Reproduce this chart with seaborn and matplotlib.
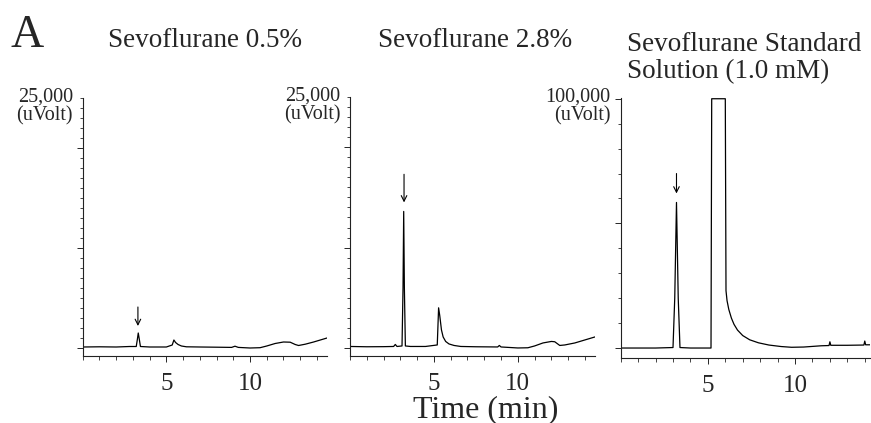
import matplotlib
matplotlib.use("Agg")
import matplotlib.pyplot as plt
import seaborn as sns
import pandas as pd
from matplotlib.ticker import MultipleLocator

# chromatogram traces (time in min, signal in uVolt)
p1_time = [0.0, 1.0, 2.0, 2.8, 3.2, 3.27, 3.32, 3.38, 3.45, 4.0, 5.0, 5.35, 5.45, 5.55,
           5.7, 5.9, 6.2, 7.0, 8.0, 8.9, 9.1, 9.3, 10.0, 10.6, 11.0, 11.5, 12.0, 12.4,
           12.7, 12.9, 13.3, 13.8, 14.2, 14.6]
p1_uv = [100, 120, 100, 150, 150, 900, 1500, 900, 150, 100, 100, 300, 800, 550,
         350, 200, 120, 100, 80, 60, 180, 60, 0, 30, 200, 450, 600, 580,
         350, 250, 380, 600, 800, 1000]

p2_time = [0.0, 1.0, 2.0, 2.6, 2.7, 2.8, 3.1, 3.16, 3.2, 3.24, 3.3, 3.6, 4.5, 5.2, 5.28,
           5.35, 5.45, 5.55, 5.7, 5.9, 6.2, 6.6, 7.5, 8.8, 8.9, 9.0, 10.0, 10.6, 11.0,
           11.5, 12.0, 12.2, 12.5, 12.8, 13.4, 14.0, 14.6]
p2_uv = [150, 120, 130, 150, 350, 150, 200, 6000, 13600, 6000, 200, 150, 150, 300, 4000,
         3200, 1800, 1100, 650, 400, 250, 150, 120, 100, 250, 100, 0, 20, 200,
         500, 650, 620, 250, 300, 500, 800, 1100]

p3_time = [0.0, 1.0, 2.0, 3.0, 3.1, 3.2, 3.3, 3.4, 4.0, 5.0, 5.18, 5.22, 6.0, 6.04, 6.1,
           6.2, 6.35, 6.5, 6.7, 7.0, 7.4, 7.9, 8.5, 9.2, 9.8, 10.5, 11.5, 11.95, 12.0,
           12.05, 13.0, 13.95, 14.0, 14.05, 14.3]
p3_uv = [0, 0, 0, 200, 20000, 58400, 20000, 200, 0, 0, 0, 100000, 100000, 23000, 19000,
         15500, 12000, 9500, 7200, 5000, 3300, 2100, 1200, 600, 300, 400, 900, 1000, 2500,
         1100, 1100, 1200, 2800, 1300, 1300]

titles = ["Sevoflurane 0.5%", "Sevoflurane 2.8%", "Sevoflurane Standard\nSolution (1.0 mM)"]
scale_labels = ["25,000\n(uVolt)", "25,000\n(uVolt)", "100,000\n(uVolt)"]
arrow_time = [3.3, 3.22, 3.2]
arrow_tail = [4100, 17300, 70000]
arrow_tip = [2200, 14500, 62000]

sns.set_style("ticks")
plt.rcParams["font.family"] = ["Liberation Serif", "DejaVu Serif"]

W, H = 871, 423
fig = plt.figure(figsize=(W / 100, H / 100), dpi=100)


def add_ax(left, right, top, bottom):
    return fig.add_axes([left / W, 1 - bottom / H, (right - left) / W, (bottom - top) / H])


axes = [add_ax(82.7, 327, 98, 356), add_ax(350, 595, 97, 356), add_ax(620.7, 870, 98, 358)]
xlims = [(0, 14.6), (0, 14.6), (0, 14.3)]
ylims = [(-800, 25000), (-800, 25000), (-4000, 100300)]
ymajor = [10000, 10000, 50000]
yminor = [1000, 1000, 10000]
traces = [(p1_time, p1_uv), (p2_time, p2_uv), (p3_time, p3_uv)]

for i, ax in enumerate(axes):
    df = pd.DataFrame({"time": traces[i][0], "uv": traces[i][1]})
    sns.lineplot(data=df, x="time", y="uv", ax=ax, color="black", linewidth=0.9,
                 sort=False, estimator=None)
    ax.set_xlim(*xlims[i])
    ax.set_ylim(*ylims[i])
    ax.set_xlabel("")
    ax.set_ylabel("")
    for s in ["top", "right"]:
        ax.spines[s].set_visible(False)
    for s in ["left", "bottom"]:
        ax.spines[s].set_linewidth(0.8)
        ax.spines[s].set_color("#222222")
    ax.xaxis.set_minor_locator(MultipleLocator(1))
    ax.set_xticks([5, 10])
    ax.set_xticklabels(["5", "10"])
    ax.yaxis.set_major_locator(MultipleLocator(ymajor[i]))
    ax.yaxis.set_minor_locator(MultipleLocator(yminor[i]))
    ax.tick_params(axis="x", which="major", length=4, width=0.7, labelsize=18, pad=8)
    ax.tick_params(axis="x", which="minor", length=3, width=0.6)
    ax.tick_params(axis="y", which="major", length=4, width=0.7, labelleft=False)
    ax.tick_params(axis="y", which="minor", length=2.5, width=0.6)
    # arrow marking the sevoflurane peak
    ax.annotate("", xy=(arrow_time[i], arrow_tip[i]), xytext=(arrow_time[i], arrow_tail[i]),
                arrowprops=dict(arrowstyle="->", lw=0.8, color="black",
                                shrinkA=0, shrinkB=0, mutation_scale=10))
    ax.text(-0.04, 1.04, scale_labels[i], transform=ax.transAxes, ha="right", va="top",
            fontsize=14.5, linespacing=0.95)

fig.text(10 / W, 1 - 47 / H, "A", fontsize=33, va="baseline", ha="left")
fig.text(108 / W, 1 - 47 / H, titles[0], fontsize=19.5, va="baseline", ha="left")
fig.text(378 / W, 1 - 47 / H, titles[1], fontsize=19.5, va="baseline", ha="left")
fig.text(627 / W, 1 - 78 / H, titles[2], fontsize=19.5, va="baseline", ha="left",
         linespacing=1.1)
fig.text(486 / W, 1 - 417 / H, "Time (min)", fontsize=23, va="baseline", ha="center")

fig.savefig("out.png", dpi=100)
